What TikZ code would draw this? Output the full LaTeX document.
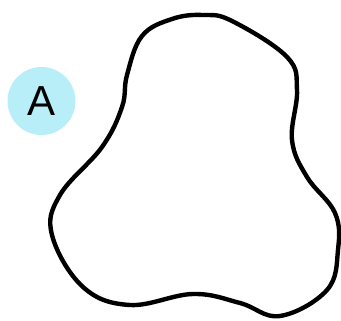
\documentclass[tikz,border=0pt]{standalone}
\usepackage{fontspec}
\setmainfont{Liberation Sans}
\definecolor{bubble}{HTML}{B8EEF8}
\tikzset{
  blob/.style={line width=4.4pt, black, line join=round},
  badge/.style={circle, fill=bubble, minimum size=68pt, inner sep=0pt, font=\fontsize{42}{42}\selectfont}
}
\begin{document}
\begin{tikzpicture}[x=1pt,y=-1pt]
\useasboundingbox (0,0) rectangle (341,321);
\node[badge] (a) at (41.5,101) {A};
\draw[blob] plot[smooth cycle, tension=0.65] coordinates {
 (127,75) (142,36) (172,19) (203,15) (232,21) (287,57) (297,90)
 (292,140) (307,177) (335,213) (338,250) (327,290) (280,316) (240,303)
 (193,294) (130,305) (83,287) (52,235) (60,195) (102,147) (122,107)};
\end{tikzpicture}
\end{document}
